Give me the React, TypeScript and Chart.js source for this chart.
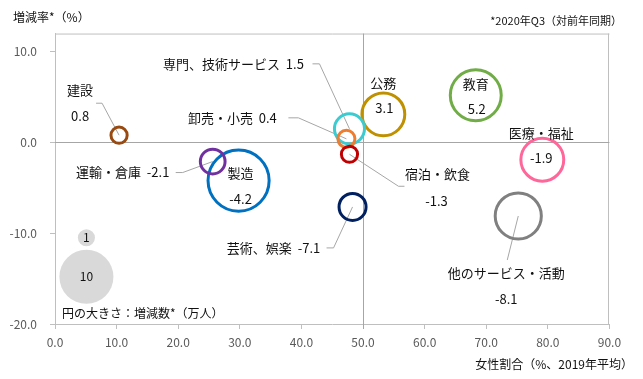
import { useEffect, useRef } from "react";
import { Chart, registerables } from "chart.js";
Chart.register(...registerables);

// ---- data ----
const categories = [
  "製造",
  "運輸・倉庫",
  "建設",
  "公務",
  "教育",
  "医療・福祉",
  "芸術、娯楽",
  "他のサービス・活動",
  "専門、技術サービス",
  "卸売・小売",
  "宿泊・飲食",
];
const femaleShare = [29.8, 25.6, 10.4, 53.3, 68.3, 79.1, 48.3, 75.2, 47.8, 47.3, 47.8];
const changeRate = [-4.2, -2.1, 0.8, 3.1, 5.2, -1.9, -7.1, -8.1, 1.5, 0.4, -1.3];
const changeCount = [12.8, 2.1, 0.9, 6.3, 8.9, 6.3, 2.5, 7.3, 3.1, 1.0, 0.9];

const legendSizes = [1, 10];
const legendX = [5.1, 5.1];
const legendY = [-10.5, -14.8];

const xTicks = [0, 10, 20, 30, 40, 50, 60, 70, 80, 90];
const yTicks = [-20, -10, 0, 10];

// ---- styles ----
const colors = [
  "#0070C0",
  "#7030A0",
  "#994A10",
  "#BF9000",
  "#70AD47",
  "#FF6699",
  "#002060",
  "#808080",
  "#3CCBD0",
  "#ED7D31",
  "#C00000",
];
const RADIUS_K = 8.54;
const FONT = '"Noto Sans CJK JP", "Noto Sans", sans-serif';

// label layout: pixel offsets from bubble centre
type Lbl = {
  inline?: [number, number];
  name?: [number, number];
  value?: [number, number];
  leader?: [number, number][];
};
const labelLayout: Lbl[] = [
  { name: [2, -8], value: [2, 18] },
  { inline: [-90, 11], leader: [[-37, 11], [-30, 11]] },
  { name: [-39, -45], value: [-39, -19], leader: [[-23, -32], [-17, -32]] },
  { name: [0, -31], value: [1, -6] },
  { name: [0, -11], value: [1, 14] },
  { name: [-1, -27], value: [-1, -2] },
  { inline: [-79, 41], leader: [[-26, 41], [-19, 41]] },
  { name: [-12, 57], value: [-12, 83], leader: [[-11, 44]] },
  { inline: [-116, -65], leader: [[-37, -65], [-30, -65]] },
  { inline: [-114, -21], leader: [[-58, -21], [-48, -21]] },
  { name: [88, 20], value: [87, 47], leader: [[55, 32], [49, 32]] },
];

const overlay = {
  id: "overlay",
  beforeDatasetsDraw(chart: any) {
    const { ctx, chartArea: a, scales } = chart;
    const xs = scales.x, ys = scales.y;
    ctx.save();
    // frame
    ctx.strokeStyle = "#bfbfbf";
    ctx.lineWidth = 1;
    ctx.beginPath();
    ctx.moveTo(a.left, a.top + 0.5);
    ctx.lineTo(a.right, a.top + 0.5);
    ctx.moveTo(Math.round(a.right) - 0.5, a.top);
    ctx.lineTo(Math.round(a.right) - 0.5, a.bottom);
    ctx.stroke();
    // crosshair
    const cx = Math.round(xs.getPixelForValue(50)) + 0.5;
    const cy = Math.round(ys.getPixelForValue(0)) + 0.5;
    ctx.strokeStyle = "#a6a6a6";
    ctx.beginPath();
    ctx.moveTo(cx, a.top);
    ctx.lineTo(cx, a.bottom + 5);
    ctx.moveTo(a.left, cy);
    ctx.lineTo(a.right, cy);
    ctx.stroke();
    // leader lines
    const meta = chart.getDatasetMeta(0);
    ctx.strokeStyle = "#a6a6a6";
    ctx.lineWidth = 1;
    labelLayout.forEach((l, i) => {
      if (!l.leader) return;
      const el = meta.data[i];
      ctx.beginPath();
      l.leader!.forEach(([dx, dy], k) => {
        const px = el.x + dx, py = el.y + dy;
        if (k === 0) ctx.moveTo(px, py);
        else ctx.lineTo(px, py);
      });
      ctx.lineTo(el.x, el.y);
      ctx.stroke();
    });
    ctx.restore();
  },
  afterDatasetsDraw(chart: any) {
    const { ctx, chartArea: a, width, height } = chart;
    ctx.save();
    ctx.fillStyle = "#111";
    ctx.textBaseline = "middle";
    ctx.textAlign = "center";
    ctx.font = `13px ${FONT}`;
    const meta = chart.getDatasetMeta(0);
    labelLayout.forEach((l, i) => {
      const el = meta.data[i];
      const v = changeRate[i].toFixed(1);
      if (l.inline) ctx.fillText(`${categories[i]}  ${v}`, el.x + l.inline[0], el.y + l.inline[1]);
      if (l.name) ctx.fillText(categories[i], el.x + l.name[0], el.y + l.name[1]);
      if (l.value) ctx.fillText(v, el.x + l.value[0], el.y + l.value[1]);
    });
    // size legend numbers
    const lm = chart.getDatasetMeta(1);
    ctx.font = `12px ${FONT}`;
    legendSizes.forEach((s, i) => {
      const el = lm.data[i];
      ctx.fillText(String(s), el.x, el.y);
    });
    // caption
    ctx.textAlign = "left";
    ctx.fillText("円の大きさ：増減数*（万人）", a.left + 7, a.bottom - 11);
    // titles
    ctx.fillText("増減率*（%）", 13, 17);
    ctx.textAlign = "right";
    ctx.font = `11px ${FONT}`;
    ctx.fillText("*2020年Q3（対前年同期）", width - 21, 21);
    ctx.font = `12px ${FONT}`;
    ctx.fillText("女性割合（%、2019年平均）", width - 10, height - 15);
    ctx.restore();
  },
};

export default function App() {
  const ref = useRef<HTMLCanvasElement>(null);
  useEffect(() => {
    const chart = new Chart(ref.current!, {
      type: "bubble",
      data: {
        datasets: [
          {
            data: categories.map((_, i) => ({
              x: femaleShare[i],
              y: changeRate[i],
              r: RADIUS_K * Math.sqrt(changeCount[i]),
            })),
            borderColor: colors,
            backgroundColor: "rgba(0,0,0,0)",
            borderWidth: 3,
            hoverRadius: 0,
            hoverBorderWidth: 3,
          },
          {
            data: legendSizes.map((s, i) => ({
              x: legendX[i],
              y: legendY[i],
              r: RADIUS_K * Math.sqrt(s),
            })),
            backgroundColor: "#d9d9d9",
            borderWidth: 0,
            hoverRadius: 0,
          },
        ],
      },
      options: {
        animation: false,
        responsive: false,
        devicePixelRatio: 1,
        events: [],
        layout: { padding: { left: 0, right: 25.6, top: 33, bottom: 0 } },
        plugins: { legend: { display: false }, tooltip: { enabled: false } },
        scales: {
          x: {
            type: "linear",
            min: 0,
            max: 90,
            afterBuildTicks: (s: any) => {
              s.ticks = xTicks.map((v) => ({ value: v }));
            },
            afterFit: (s: any) => {
              s.height = 55;
            },
            ticks: {
              callback: (v: any) => Number(v).toFixed(1),
              font: { family: FONT, size: 12 },
              color: "#595959",
              padding: 6,
              maxRotation: 0,
              autoSkip: false,
            },
            grid: { drawOnChartArea: false, tickLength: 5, color: "#bfbfbf" },
            border: { color: "#bfbfbf" },
          },
          y: {
            type: "linear",
            min: -20,
            max: 12,
            afterBuildTicks: (s: any) => {
              s.ticks = yTicks.map((v) => ({ value: v }));
            },
            afterFit: (s: any) => {
              s.width = 55;
            },
            ticks: {
              callback: (v: any) => Number(v).toFixed(1),
              font: { family: FONT, size: 12 },
              color: "#595959",
              padding: 13,
              autoSkip: false,
            },
            grid: { drawOnChartArea: false, tickLength: 5, color: "#bfbfbf" },
            border: { color: "#bfbfbf" },
          },
        },
      },
      plugins: [overlay],
    });
    return () => chart.destroy();
  }, []);
  return (
    <div style={{ position: "fixed", left: 0, top: 0, width: 643, height: 379, background: "#fff" }}>
      <canvas ref={ref} width={643} height={379} style={{ width: 643, height: 379 }} />
    </div>
  );
}
